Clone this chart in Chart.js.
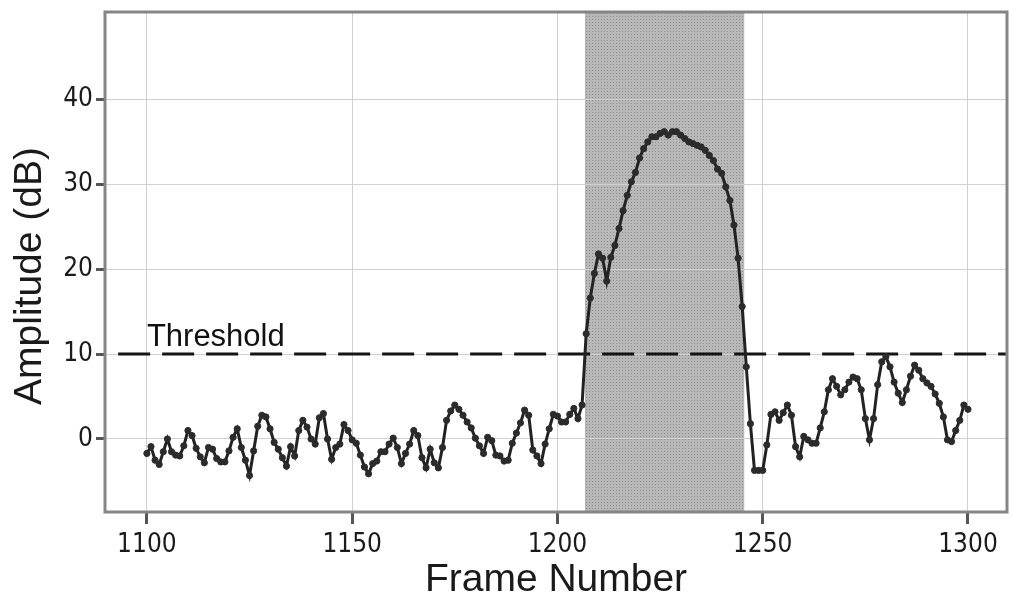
<!DOCTYPE html>
<html lang="en">
<head>
  <meta charset="UTF-8" />
  <title>Amplitude vs frame</title>
  <script src="https://cdn.jsdelivr.net/npm/chart.js@4"></script>
  <style>
    body { margin: 0; background: #fff; }
    #wrap { width: 1012px; height: 604px; }
  </style>
</head>
<body>
  <div id="wrap"><canvas id="ampChart" width="1012" height="604"></canvas></div>

<script>
  // one amplitude value (dB) per frame, starting at FIRST_FRAME
  const FIRST_FRAME = 1100;
  const AMPLITUDE = [
    -1.7, -0.9, -2.5, -3.0, -1.5, 0.0, -1.5, -1.9, -2.0, -0.8,
    1.0, 0.4, -1.1, -2.1, -2.8, -1.0, -1.2, -2.3, -2.7, -2.7,
    -1.4, 0.2, 1.2, -1.0, -2.5, -4.3, -1.4, 1.5, 2.8, 2.6,
    1.2, -0.4, -1.2, -2.2, -3.2, -0.9, -2.0, 1.0, 2.2, 1.4,
    0.0, -0.6, 2.5, 3.0, 0.0, -2.4, -1.0, -0.6, 1.7, 1.0,
    -0.1, -0.5, -1.9, -3.3, -4.1, -2.9, -2.6, -1.5, -1.5, -0.6,
    0.1, -1.0, -2.9, -1.7, -0.6, 1.0, 0.4, -2.2, -3.4, -1.2,
    -2.8, -3.4, -1.0, 2.2, 3.3, 4.0, 3.5, 2.8, 2.0, 1.3,
    0.1, -0.8, -1.7, 0.2, -0.2, -1.9, -2.0, -2.6, -2.5, -0.5,
    0.7, 1.9, 3.4, 2.8, -1.3, -2.0, -2.9, -0.6, 1.2, 2.9,
    2.7, 2.0, 2.0, 2.9, 3.6, 2.4, 4.0, 12.4, 16.6, 19.5,
    21.8, 21.3, 18.6, 21.4, 22.8, 24.8, 26.9, 28.7, 30.3, 31.4,
    33.1, 34.2, 35.0, 35.6, 35.6, 36.0, 36.2, 35.8, 36.2, 36.2,
    35.8, 35.4, 35.0, 34.8, 34.6, 34.4, 34.0, 33.4, 32.8, 31.8,
    31.3, 29.7, 28.1, 25.2, 21.3, 15.6, 8.5, 1.8, -3.7, -3.7,
    -3.7, -0.7, 2.9, 3.2, 2.2, 3.1, 4.0, 2.8, -0.9, -2.1,
    0.3, -0.1, -0.5, -0.5, 1.3, 3.2, 5.8, 7.1, 6.2, 5.2,
    5.8, 6.7, 7.3, 7.1, 5.8, 2.4, -0.1, 2.4, 6.4, 9.1,
    9.7, 8.5, 6.7, 5.4, 4.3, 5.8, 7.4, 8.7, 8.1, 7.1,
    6.6, 6.2, 5.3, 4.2, 2.6, -0.1, -0.3, 1.0, 2.2, 4.0,
    3.5
  ];

  const THRESHOLD = 10;
  const THRESHOLD_LABEL = 'Threshold';
  const THRESHOLD_FROM = 1093;      // dashed line starts a little left of 1100
  const EVENT_START = 1206.7;       // shaded detection window
  const EVENT_END = 1245.5;

  const TICKS_X = [1100, 1150, 1200, 1250, 1300];
  const TICKS_Y = [0, 10, 20, 30, 40];
  const X_MIN = 1089.8, X_MAX = 1309.5;
  const Y_MIN = -8.6, Y_MAX = 50.3;
  const Y_TITLE = 'Amplitude (dB)';

  const amplitudePoints = AMPLITUDE.map((v, i) => ({ x: FIRST_FRAME + i, y: v }));

  // fine dotted gray fill for the event window
  function makeShadePattern() {
    const c = document.createElement('canvas');
    c.width = 3; c.height = 3;
    const g = c.getContext('2d');
    g.fillStyle = '#b8b8b8';
    g.fillRect(0, 0, 3, 3);
    g.fillStyle = '#8c8c8c';
    g.fillRect(1, 1, 1, 1);
    return g.createPattern(c, 'repeat');
  }

  const shadeBand = {
    id: 'shadeBand',
    beforeDraw(chart) {
      const { ctx, chartArea: a, scales: { x } } = chart;
      const x0 = x.getPixelForValue(EVENT_START);
      const x1 = x.getPixelForValue(EVENT_END);
      ctx.save();
      ctx.fillStyle = makeShadePattern();
      ctx.fillRect(x0, a.top, x1 - x0, a.bottom - a.top);
      ctx.restore();
    }
  };

  const frameAndLabel = {
    id: 'frameAndLabel',
    afterDraw(chart) {
      const { ctx, chartArea: a, scales: { x, y } } = chart;
      ctx.save();
      // threshold caption
      ctx.fillStyle = '#111';
      ctx.font = '31px "Liberation Sans", Arial, sans-serif';
      ctx.textBaseline = 'alphabetic';
      ctx.fillText(THRESHOLD_LABEL, x.getPixelForValue(FIRST_FRAME), y.getPixelForValue(THRESHOLD) - 8);
      // y axis title, rotated, centred a little below the plot middle
      ctx.translate(30, (a.top + a.bottom) / 2 + 14);
      ctx.rotate(-Math.PI / 2);
      ctx.textAlign = 'center';
      ctx.textBaseline = 'middle';
      ctx.font = '39px "Liberation Sans", Arial, sans-serif';
      ctx.fillStyle = '#1a1a1a';
      ctx.fillText(Y_TITLE, 0, 0);
      ctx.restore();
      // plot frame
      ctx.save();
      ctx.strokeStyle = '#858585';
      ctx.lineWidth = 3;
      ctx.strokeRect(a.left, a.top, a.right - a.left, a.bottom - a.top);
      ctx.restore();
    }
  };

  const tickFont = { family: '"DejaVu Sans Condensed", "DejaVu Sans", sans-serif', size: 26 };
  const titleFont = { family: '"Liberation Sans", Arial, sans-serif', size: 39 };

  new Chart(document.getElementById('ampChart'), {
    type: 'scatter',
    data: {
      datasets: [
        {
          label: 'Amplitude',
          data: amplitudePoints,
          showLine: true,
          borderColor: '#222',
          borderWidth: 3,
          pointRadius: 3.1,
          pointBackgroundColor: '#2b2b2b',
          pointBorderColor: '#2b2b2b',
          pointBorderWidth: 1,
          tension: 0,
          order: 0
        },
        {
          label: 'Threshold',
          data: [{ x: THRESHOLD_FROM, y: THRESHOLD }, { x: X_MAX + 5, y: THRESHOLD }],
          showLine: true,
          borderColor: '#151515',
          borderWidth: 3,
          borderDash: [32, 12],
          pointRadius: 0,
          order: 1
        }
      ]
    },
    options: {
      responsive: false,
      animation: false,
      layout: { padding: { top: 12, right: 4, left: 0, bottom: 0 } },
      plugins: { legend: { display: false }, tooltip: { enabled: false } },
      scales: {
        x: {
          type: 'linear',
          min: X_MIN,
          max: X_MAX,
          afterBuildTicks: s => { s.ticks = TICKS_X.map(v => ({ value: v })); },
          afterFit: s => { s.height = 92; s.paddingLeft = 0; s.paddingRight = 0; },
          border: { display: false },
          grid: { color: '#d0d0d0', lineWidth: 1, tickColor: '#555', tickWidth: 3, tickLength: 12 },
          ticks: { color: '#1a1a1a', font: tickFont, padding: 6, maxRotation: 0, callback: v => String(v) },
          title: { display: true, text: 'Frame Number', color: '#1a1a1a', font: titleFont, padding: { top: 0, bottom: 0 } }
        },
        y: {
          type: 'linear',
          min: Y_MIN,
          max: Y_MAX,
          afterBuildTicks: s => { s.ticks = TICKS_Y.map(v => ({ value: v })); },
          afterFit: s => { s.width = 105; s.paddingTop = 0; s.paddingBottom = 0; },
          border: { display: false },
          grid: { color: '#d0d0d0', lineWidth: 1, tickColor: '#555', tickWidth: 3, tickLength: 9 },
          ticks: { color: '#1a1a1a', font: tickFont, padding: 3, callback: v => String(v) }
        }
      }
    },
    plugins: [shadeBand, frameAndLabel]
  });
</script>
</body>
</html>
